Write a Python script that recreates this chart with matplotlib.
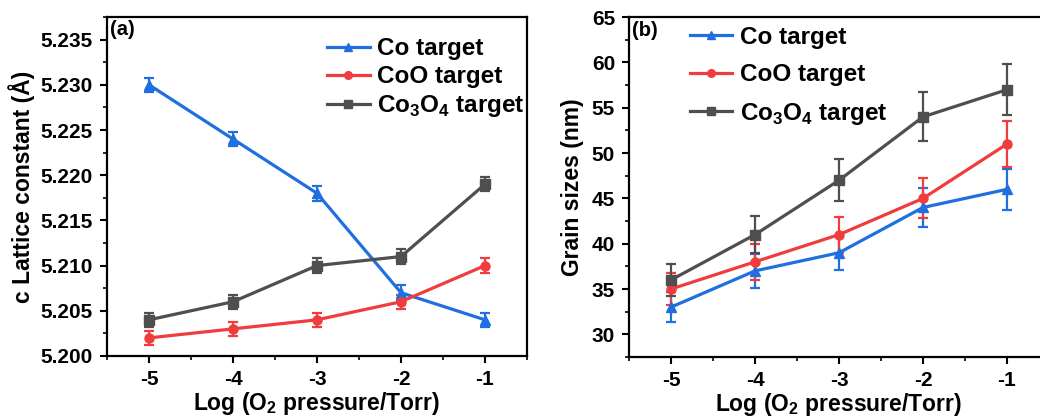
import numpy as np
import matplotlib.pyplot as plt
from matplotlib.lines import Line2D
from matplotlib.ticker import MultipleLocator, FormatStrFormatter

plt.rcParams['font.family'] = ['Liberation Sans', 'DejaVu Sans']
plt.rcParams['font.weight'] = 'bold'
plt.rcParams['axes.unicode_minus'] = False
plt.rcParams['mathtext.fontset'] = 'custom'
plt.rcParams['mathtext.rm'] = 'Liberation Sans:bold'
plt.rcParams['mathtext.bf'] = 'Liberation Sans:bold'

log_p = [-5, -4, -3, -2, -1]

# (a) c lattice constant (Å)
lat_co = [5.230, 5.224, 5.218, 5.207, 5.204]
lat_coo = [5.202, 5.203, 5.204, 5.206, 5.210]
lat_co3o4 = [5.204, 5.206, 5.210, 5.211, 5.219]
lat_err = [0.0008, 0.0008, 0.0008, 0.0008, 0.0008]

# (b) grain sizes (nm)
gs_co = [33, 37, 39, 44, 46]
gs_co_err = [1.65, 1.85, 1.9, 2.2, 2.3]
gs_coo = [35, 38, 41, 45, 51]
gs_coo_err = [1.75, 1.95, 2.0, 2.2, 2.5]
gs_co3o4 = [36, 41, 47, 54, 57]
gs_co3o4_err = [1.8, 2.05, 2.3, 2.7, 2.8]

labels = ['Co target', 'CoO target', r'Co$_3$O$_4$ target']
colors = ['#1f6fe0', '#f03c3c', '#4f4f4f']
markers = ['^', 'o', 's']

fig = plt.figure(figsize=(10.4, 4.19), dpi=100)
ax1 = fig.add_axes([0.1029, 0.1504, 0.4038, 0.809])
ax2 = fig.add_axes([0.6048, 0.148, 0.4038, 0.811])


def draw(ax, series, errs):
    for y, e, c, m in zip(series, errs, colors, markers):
        ax.errorbar(log_p, y, yerr=e, color=c, marker=m, markersize=6.5,
                    lw=2.3, elinewidth=1.6, capsize=3.5, capthick=1.6)
    ax.set_xlim(-5.5, -0.5)
    ax.xaxis.set_major_locator(MultipleLocator(1))
    ax.xaxis.set_minor_locator(MultipleLocator(0.5))
    ax.tick_params(which='major', direction='out', length=5, width=1.5,
                   labelsize=15, pad=5)
    ax.tick_params(which='minor', direction='out', length=3, width=1.2)
    ax.tick_params(axis='x', which='both', top=False)
    ax.tick_params(axis='y', which='both', right=False)
    for s in ax.spines.values():
        s.set_linewidth(1.6)
    ax.set_xlabel(r'Log (O$_2$ pressure/Torr)', fontsize=16.5, fontweight='bold',
                  labelpad=1)


def handles():
    return [Line2D([], [], color=c, marker=m, markersize=5.5, lw=2.3)
            for c, m in zip(colors, markers)]


draw(ax1, [lat_co, lat_coo, lat_co3o4], [lat_err, lat_err, lat_err])
ax1.set_ylim(5.200, 5.2375)
ax1.yaxis.set_major_locator(MultipleLocator(0.005))
ax1.yaxis.set_minor_locator(MultipleLocator(0.0025))
ax1.yaxis.set_major_formatter(FormatStrFormatter('%.3f'))
ax1.set_ylabel('c Lattice constant (Å)', fontsize=16.5, fontweight='bold', labelpad=4)
ax1.text(0.008, 0.99, '(a)', transform=ax1.transAxes, fontsize=14.5,
         fontweight='bold', va='top', ha='left')
ax1.legend(handles(), labels, loc='upper left', bbox_to_anchor=(0.524, 0.94),
           frameon=False, fontsize=17.5, handlelength=1.75, handletextpad=0.3,
           labelspacing=0.2, borderaxespad=0, borderpad=0)

draw(ax2, [gs_co, gs_coo, gs_co3o4], [gs_co_err, gs_coo_err, gs_co3o4_err])
ax2.set_ylim(27.5, 65)
ax2.yaxis.set_major_locator(MultipleLocator(5))
ax2.yaxis.set_minor_locator(MultipleLocator(2.5))
ax2.set_ylabel('Grain sizes (nm)', fontsize=16.5, fontweight='bold', labelpad=6)
ax2.text(0.008, 0.99, '(b)', transform=ax2.transAxes, fontsize=14.5,
         fontweight='bold', va='top', ha='left')
ax2.legend(handles(), labels, loc='upper left', bbox_to_anchor=(0.145, 0.975),
           frameon=False, fontsize=17.5, handlelength=1.75, handletextpad=0.3,
           labelspacing=0.6, borderaxespad=0, borderpad=0)

fig.savefig('out.png', dpi=100)
